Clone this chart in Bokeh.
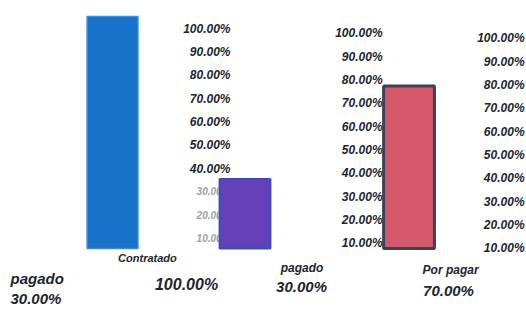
from bokeh.plotting import figure
from bokeh.models import FactorRange, Range1d, ColumnDataSource
from bokeh.core.properties import value
from bokeh.embed import file_html
from bokeh.resources import INLINE

# ---- data ----
categories = ["Contratado", "pagado", "Por pagar"]
shares = [1.00, 0.30, 0.70]
tick_values = [0.1, 0.2, 0.3, 0.4, 0.5, 0.6, 0.7, 0.8, 0.9, 1.0]
tick_labels = ["10.00%", "20.00%", "30.00%", "40.00%", "50.00%",
               "60.00%", "70.00%", "80.00%", "90.00%", "100.00%"]
stray_index = 1  # the lone "pagado 30.00%" note at the bottom left

# ---- layout / style ----
FONT = value("Liberation Sans")
INK = "#1c2530"
bar_shift = [0.139, -0.1055, -0.170]
bar_width = 0.29
bar_fill = ["#1872c9", "#6540b8", "#d5596a"]
bar_line = ["#3d8ad6", "#3550b8", "#3b4257"]
bar_line_w = [1.5, 2, 3]
col_right = [0.812, 0.679, 0.489]
col_lift = [0.021, 0.0, -0.021]
name_shift = [0.338, 0.22, 0.067]
name_y = [-0.043, -0.086, -0.091]
name_size = ["11px", "12px", "12px"]
value_shift = [0.561, 0.217, 0.055]
value_y = [-0.155, -0.164, -0.181]
value_size = ["16px", "15px", "15px"]
stray_x = 0.057
stray_y = [-0.129, -0.2155]

def pct(v):
    return f"{v * 100:.2f}%"

p = figure(width=526, height=311,
           x_range=FactorRange(*categories),
           y_range=Range1d(-0.2716, 1.069),
           x_axis_location=None, y_axis_location=None,
           output_backend="svg", toolbar_location=None, min_border=0)
p.extra_y_ranges = {"ticks": Range1d(-0.1916, 1.1414)}
p.grid.visible = False
p.outline_line_color = None
p.background_fill_color = "white"

# tick-label columns
tx, ty, tt, tc, ts = [], [], [], [], []
for i in range(len(categories)):
    for v, lab in zip(tick_values, tick_labels):
        tx.append(i + 0.5 + col_right[i])
        ty.append(v + col_lift[i])
        tt.append(lab)
        faint = (i == 0 and v < 0.35)
        tc.append("#9aa0a8" if faint else INK)
        ts.append("10px" if faint else "12px")
tick_src = ColumnDataSource(dict(x=tx, y=ty, text=tt, color=tc, size=ts))
p.text(x="x", y="y", text="text", source=tick_src, y_range_name="ticks",
       text_align="right", text_baseline="middle", text_font=FONT,
       text_font_style="bold italic", text_color="color", text_font_size="size")

# bars
bar_src = ColumnDataSource(dict(
    x=[i + 0.5 + s for i, s in enumerate(bar_shift)],
    top=shares, fill=bar_fill, line=bar_line, lw=bar_line_w))
p.vbar(x="x", top="top", bottom=0, width=bar_width, source=bar_src,
       fill_color="fill", line_color="line", line_width="lw")

# labels under the bars
lab_src = ColumnDataSource(dict(
    nx=[i + 0.5 + s for i, s in enumerate(name_shift)], ny=name_y,
    name=categories, nsize=name_size,
    vx=[i + 0.5 + s for i, s in enumerate(value_shift)], vy=value_y,
    val=[pct(v) for v in shares], vsize=value_size))
p.text(x="nx", y="ny", text="name", source=lab_src, text_align="center",
       text_baseline="middle", text_font=FONT, text_font_style="bold italic",
       text_color=INK, text_font_size="nsize")
p.text(x="vx", y="vy", text="val", source=lab_src, text_align="center",
       text_baseline="middle", text_font=FONT, text_font_style="bold italic",
       text_color=INK, text_font_size="vsize")

# stray note at bottom-left
stray_src = ColumnDataSource(dict(
    x=[stray_x, stray_x], y=stray_y,
    text=[categories[stray_index], pct(shares[stray_index])]))
p.text(x="x", y="y", text="text", source=stray_src, text_align="left",
       text_baseline="middle", text_font=FONT, text_font_style="bold italic",
       text_color=INK, text_font_size="15px")

open("out.html", "w").write(file_html(p, INLINE))
